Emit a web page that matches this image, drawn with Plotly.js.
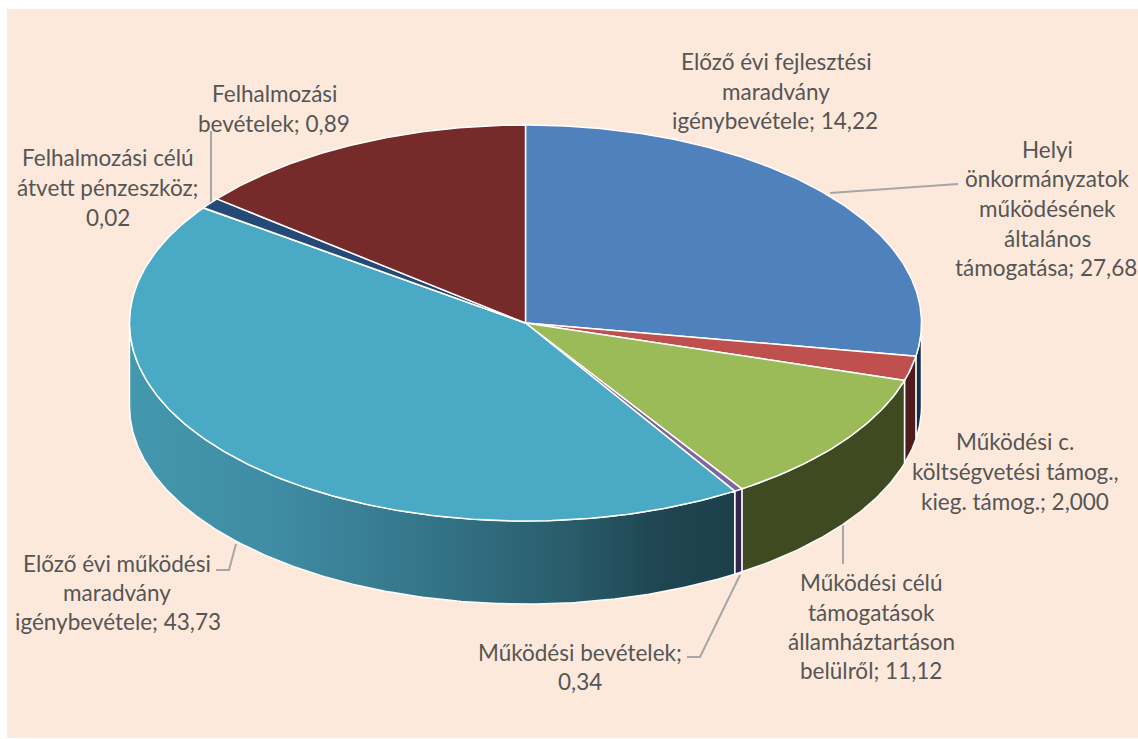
<!DOCTYPE html>
<html><head><meta charset="utf-8">
<script src="https://cdn.plot.ly/plotly-3.0.1.min.js"></script>
<style>html,body{margin:0;padding:0;background:#fff}#c{width:1138px;height:739px}</style>
</head><body><div id="c"></div>
<script>
// Data (clockwise from 12 o'clock)
const names = ["Helyi önkormányzatok működésének általános támogatása","Működési c. költségvetési támog., kieg. támog.","Működési célú támogatások államháztartáson belülről","Működési bevételek","Előző évi működési maradvány igénybevétele","Felhalmozási célú átvett pénzeszköz","Felhalmozási bevételek","Előző évi fejlesztési maradvány igénybevétele"];
const values = [27.68,2.0,11.12,0.34,43.73,0.02,0.89,14.22];
const wedgeColors = ["#4f81bd","#c0504d","#9bbb59","#8064a2","#4aa9c4","#1f497d","#264a78","#772a2a"];
const sideColors = ["#14304f","#4d1c1c","#3f4a20","#33264a",null,"#14304f","#4d1c1c","#2f4d71"];
const tealSideScale = [[0,"#4398ae"],[0.25,"#3f8ba3"],[0.5,"#347488"],[0.72,"#2a5d6c"],[0.87,"#1f4652"],[1,"#1c404b"]];

// Labels
const labelLines = [
 {x:776,y:61,t:"Előző évi fejlesztési"},{x:776,y:91,t:"maradvány"},{x:775,y:120,t:"igénybevétele; 14,22"},
 {x:1047,y:149,t:"Helyi"},{x:1047,y:178,t:"önkormányzatok"},{x:1047,y:208,t:"működésének"},{x:1047,y:238,t:"általános"},{x:1046,y:267,t:"támogatása; 27,68"},
 {x:1015,y:441,t:"Működési c."},{x:1015,y:471,t:"költségvetési támog.,"},{x:1015,y:501,t:"kieg. támog.; 2,000"},
 {x:871,y:582,t:"Működési célú"},{x:871,y:612,t:"támogatások"},{x:871,y:641,t:"államháztartáson"},{x:871,y:670,t:"belülről; 11,12"},
 {x:580,y:652,t:"Működési bevételek;"},{x:580,y:681,t:"0,34"},
 {x:117,y:563,t:"Előző évi működési"},{x:117,y:592,t:"maradvány"},{x:118,y:621,t:"igénybevétele; 43,73"},
 {x:108,y:157,t:"Felhalmozási célú"},{x:108,y:187,t:"átvett pénzeszköz;"},{x:108,y:217,t:"0,02"},
 {x:275,y:93,t:"Felhalmozási"},{x:274,y:123,t:"bevételek; 0,89"}
];
const leaders = [
 [[830,193],[958,184]],
 [[211,131],[211,204]],
 [[236,544],[229,570],[216,570]],
 [[740,575],[700,657],[687,657]],
 [[843,522],[843,564]]
];

// Disc geometry in axis units
const cx=525.5, cy=323, rx=396, ry=198, depth=83;
const px=a=>cx+rx*Math.sin(a), py=a=>cy-ry*Math.cos(a);
const total=values.reduce((a,b)=>a+b,0);
const starts=[]; let acc=0;
values.forEach(v=>{starts.push(acc/total*2*Math.PI);acc+=v;});
const ends=values.map((v,i)=>starts[i]+v/total*2*Math.PI);
function arc(a,b){const n=Math.max(2,Math.ceil((b-a)/0.01));const r=[];for(let i=0;i<=n;i++)r.push(a+(b-a)*i/n);return r;}

const traces=[];
// Side walls (front half only)
const F0=Math.PI/2,F1=3*Math.PI/2;
values.forEach((v,i)=>{
  const a=Math.max(starts[i],F0),b=Math.min(ends[i],F1);
  if(b<=a) return;
  const A=arc(a,b), xs=[],ys=[];
  A.forEach(t=>{xs.push(px(t));ys.push(py(t));});
  A.slice().reverse().forEach(t=>{xs.push(px(t));ys.push(py(t)+depth);});
  xs.push(xs[0]);ys.push(ys[0]);
  const tr={x:xs,y:ys,mode:"lines",fill:"toself",line:{color:"rgba(255,255,255,0.95)",width:1.5},hoverinfo:"skip",showlegend:false,type:"scatter",name:names[i]};
  if(sideColors[i]) tr.fillcolor=sideColors[i];
  else tr.fillgradient={type:"horizontal",colorscale:tealSideScale};
  traces.push(tr);
});
// Top faces
values.forEach((v,i)=>{
  const A=arc(starts[i],ends[i]);
  const xs=[cx],ys=[cy];
  A.forEach(t=>{xs.push(px(t));ys.push(py(t));});
  xs.push(cx);ys.push(cy);
  traces.push({x:xs,y:ys,mode:"lines",fill:"toself",fillcolor:wedgeColors[i],line:{color:"#ffffff",width:1.5},hoverinfo:"text",text:names[i]+"; "+v,showlegend:false,type:"scatter",name:names[i]});
});
const layout={
  width:1138,height:739,
  margin:{l:7,r:0,t:9,b:1,pad:0},
  paper_bgcolor:"#ffffff",plot_bgcolor:"#fde9db",
  showlegend:false,
  xaxis:{range:[7,1138],visible:false,fixedrange:true},
  yaxis:{range:[738,9],visible:false,fixedrange:true},
  shapes:leaders.map(p=>({type:"path",layer:"below",path:"M"+p.map(q=>q[0]+" "+q[1]).join("L"),xref:"x",yref:"y",line:{color:"#a6a6a6",width:2}})),
  annotations:labelLines.map(l=>({x:l.x,y:l.y,xref:"x",yref:"y",text:l.t,showarrow:false,xanchor:"center",yanchor:"middle",font:{family:"Lato, 'Open Sans', sans-serif",size:22.5,color:"#555555"}}))
};
Plotly.newPlot("c",traces,layout,{displayModeBar:false,staticPlot:true});
</script>
</body></html>
